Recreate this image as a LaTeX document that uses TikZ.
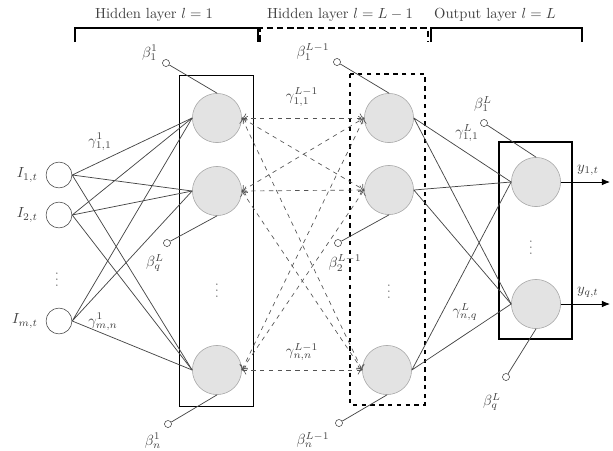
\documentclass[tikz,border=0pt]{standalone}
\usetikzlibrary{arrows.meta, positioning}

\begin{document}
\begin{tikzpicture}[
    x=0.024cm,
    y=-0.024cm,
    neuron/.style={
        circle,
        draw=gray!70,
        fill=gray!22,
        minimum size=1.18cm,
        inner sep=0pt
    },
    inputnode/.style={
        circle,
        draw=gray!60!black,
        fill=white,
        minimum size=0.62cm,
        inner sep=0pt
    },
    bias/.style={
        circle,
        draw=gray!60!black,
        fill=white,
        minimum size=0.17cm,
        inner sep=0pt
    },
    wire/.style={
        draw=gray!55!black,
        line width=0.5pt
    },
    feedback/.style={
        draw=gray!65!black,
        dashed,
        line width=0.45pt,
        {To[length=3pt]}-{To[length=3pt]}
    },
    outarrow/.style={
        -{Latex[length=5.5pt,width=4.5pt]},
        line width=0.6pt
    },
    bracket/.style={
        line width=2pt
    },
    lbl/.style={
        text=black!75
    }
]

\useasboundingbox (0,0) rectangle (613,450);

% --- LAYER HEADERS --------------------------------------------

\draw[bracket] (75,42) -- (75,28) -- (258,28) -- (258,42);
\draw[bracket, dash pattern=on 4.5pt off 2.5pt] (260,42) -- (260,28) -- (428,28) -- (428,42);
\draw[bracket] (431,42) -- (431,28) -- (582,28) -- (582,42);

\node[lbl] (head1) at (154,15) {Hidden layer $l=1$};
\node[lbl] (head2) at (340,15) {Hidden layer $l=L-1$};
\node[lbl] (head3) at (495,15) {Output layer $l=L$};

% --- LAYER BOXES ----------------------------------------------

\draw[line width=0.6pt] (179,75) rectangle (253,406);
\draw[line width=0.7pt, dashed] (350,74) rectangle (425,405);
\draw[line width=0.75pt] (499,142) rectangle (572,339);

% --- INPUTS ---------------------------------------------------

\node[inputnode] (I1) at (59,175) {};
\node[inputnode] (I2) at (59,215) {};
\node[inputnode] (Im) at (59,321) {};

\node[lbl, left=2pt of I1] {$I_{1,t}$};
\node[lbl, left=2pt of I2] {$I_{2,t}$};
\node[lbl, left=2pt of Im] {$I_{m,t}$};
\node[gray] at (57,275) {$\vdots$};

% --- HIDDEN LAYER 1 -------------------------------------------

\node[neuron] (h1) at (217,118) {};
\node[neuron] (h2) at (217,191) {};
\node[neuron] (hn) at (217,370) {};
\node[gray] at (217,286) {$\vdots$};

% --- HIDDEN LAYER L-1 -----------------------------------------

\node[neuron] (k1) at (389,118) {};
\node[neuron] (k2) at (389,190) {};
\node[neuron] (kn) at (387,370) {};
\node[gray] at (389,287) {$\vdots$};

% --- OUTPUT LAYER ---------------------------------------------

\node[neuron] (o1) at (536,182) {};
\node[neuron] (oq) at (536,304) {};
\node[gray] at (531,243) {$\vdots$};

\coordinate (y1) at (610,182);
\coordinate (yq) at (610,304);

% --- BIASES ---------------------------------------------------

\node[bias] (b11) at (166,63) {};
\node[bias] (bq1) at (167,243) {};
\node[bias] (bn1) at (168,424) {};
\node[bias] (b1K) at (337,62) {};
\node[bias] (b2K) at (338,243) {};
\node[bias] (bnK) at (339,423) {};
\node[bias] (b1L) at (484,123) {};
\node[bias] (bqL) at (506,377) {};

\draw[wire] (b11) -- (h1.north);
\draw[wire] (bq1) -- (h2.south);
\draw[wire] (bn1) -- (hn.south);
\draw[wire] (b1K) -- (k1.north);
\draw[wire] (b2K) -- (k2.south);
\draw[wire] (bnK) -- (kn.south);
\draw[wire] (b1L) -- (o1.north);
\draw[wire] (bqL) -- (oq.south);

\node[lbl] at (150,53) {$\beta^{1}_{1}$};
\node[lbl] at (155,263) {$\beta^{L}_{q}$};
\node[lbl] at (153,441) {$\beta^{1}_{n}$};
\node[lbl] at (313,52) {$\beta^{L-1}_{1}$};
\node[lbl] at (345,263) {$\beta^{L-1}_{2}$};
\node[lbl] at (313,440) {$\beta^{L-1}_{n}$};
\node[lbl] at (483,104) {$\beta^{L}_{1}$};
\node[lbl] at (492,402) {$\beta^{L}_{q}$};

% --- INPUT TO LAYER 1 -----------------------------------------

\draw[wire] (I1.east) -- (h1.west) (I1.east) -- (h2.west) (I1.east) -- (hn.west);
\draw[wire] (I2.east) -- (h1.west) (I2.east) -- (h2.west) (I2.east) -- (hn.west);
\draw[wire] (Im.east) -- (h1.west) (Im.east) -- (h2.west) (Im.east) -- (hn.west);

\node[lbl] at (100,142) {$\gamma^{1}_{1,1}$};
\node[lbl] at (103,322) {$\gamma^{1}_{m,n}$};

% --- LAYER 1 TO LAYER L-1 -------------------------------------

\draw[feedback] (h1.east) -- (k1.west);
\draw[feedback] (h1.east) -- (k2.west);
\draw[feedback] (h1.east) -- (kn.west);
\draw[feedback] (h2.east) -- (k1.west);
\draw[feedback] (h2.east) -- (k2.west);
\draw[feedback] (h2.east) -- (kn.west);
\draw[feedback] (hn.east) -- (k1.west);
\draw[feedback] (hn.east) -- (k2.west);
\draw[feedback] (hn.east) -- (kn.west);

\node[lbl] at (302,97) {$\gamma^{L-1}_{1,1}$};
\node[lbl] at (302,352) {$\gamma^{L-1}_{n,n}$};

% --- LAYER L-1 TO OUTPUT --------------------------------------

\draw[wire] (k1.east) -- (o1.west) (k1.east) -- (oq.west);
\draw[wire] (k2.east) -- (o1.west) (k2.east) -- (oq.west);
\draw[wire] (kn.east) -- (o1.west) (kn.east) -- (oq.west);

\node[lbl] at (467,133) {$\gamma^{L}_{1,1}$};
\node[lbl] at (465,312) {$\gamma^{L}_{n,q}$};

% --- OUTPUTS --------------------------------------------------

\draw[outarrow] (o1.east) -- node[lbl, pos=0.55, above=1pt] {$y_{1,t}$} (y1);
\draw[outarrow] (oq.east) -- node[lbl, pos=0.55, above=1pt] {$y_{q,t}$} (yq);

\end{tikzpicture}
\end{document}
